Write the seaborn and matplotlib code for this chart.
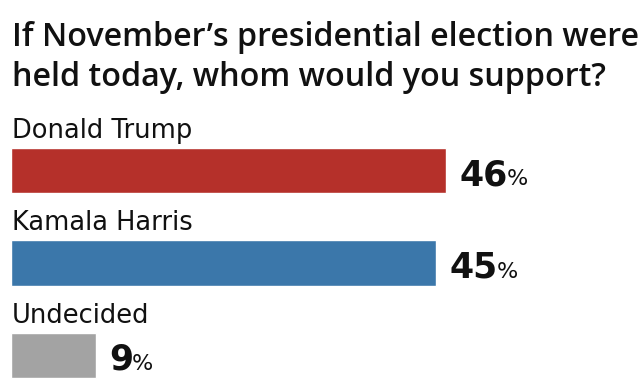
import matplotlib
matplotlib.use("Agg")
import matplotlib.pyplot as plt
import seaborn as sns
import pandas as pd

title_lines = ["If November\u2019s presidential election were", "held today, whom would you support?"]
candidates = ["Donald Trump", "Kamala Harris", "Undecided"]
shares = [46, 45, 9]
colors = ["#B5302A", "#3B77AA", "#A3A3A3"]

sns.set_theme(style="white")
plt.rcParams["font.family"] = ["DejaVu Sans"]

W, H, DPI = 641, 380, 100
fig = plt.figure(figsize=(W / DPI, H / DPI), dpi=DPI)
ax = fig.add_axes([0, 0, 1, 1])

df = pd.DataFrame({"who": candidates, "pct": shares})
sns.barplot(data=df, x="pct", y="who", hue="who", palette=colors, orient="h",
            width=0.49, legend=False, ax=ax, saturation=1)

px_per_unit = 435 / 46.0
ax.set_xlim(-10.5 / px_per_unit, (W - 10.5) / px_per_unit)
step = 92.5
c0 = 170.5
ax.set_ylim((H - c0) / step, -c0 / step)
ax.axis("off")

for i, line in enumerate(title_lines):
    fig.text(12 / W, 1 - (46 + 40 * i) / H, line, fontsize=23.2, fontweight=600,
             color="#111111", va="baseline", ha="left", family=["Open Sans", "DejaVu Sans"])

fig.canvas.draw()
r = fig.canvas.get_renderer()
for i, (name, v) in enumerate(zip(candidates, shares)):
    ax.text(0.15, i - 32.5 / step, name, fontsize=18.5, color="#111111",
            va="baseline", ha="left")
    num = ax.text(v + 13.5 / px_per_unit, i + 14.5 / step, f"{v}", fontsize=25,
                  fontweight="bold", color="#111111", va="baseline", ha="left")
    fig.canvas.draw()
    bb = num.get_window_extent(renderer=r)
    xd = ax.transData.inverted().transform((bb.x1 - 1, 0))[0]
    ax.text(xd, i + 14.5 / step, "%", fontsize=16, color="#111111",
            va="baseline", ha="left")

fig.savefig("out.png", dpi=DPI)
